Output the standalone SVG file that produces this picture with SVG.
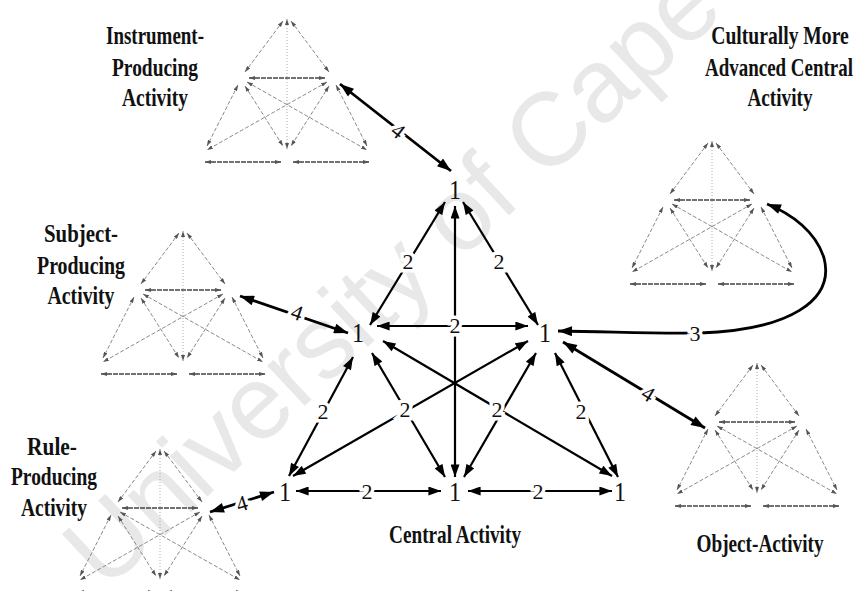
<svg xmlns="http://www.w3.org/2000/svg" xmlns:xlink="http://www.w3.org/1999/xlink" width="857" height="591" viewBox="0 0 857 591">
<style>
.title{font-family:"Liberation Serif","Times New Roman",serif;font-weight:bold;font-size:26px;fill:#111;text-anchor:middle}
.one{font-family:"Liberation Serif","Times New Roman",serif;font-size:28px;fill:#111;text-anchor:middle}
.lbl{font-family:"Liberation Serif","Times New Roman",serif;font-size:22px;fill:#111;text-anchor:middle;stroke:#fff;stroke-width:7px;paint-order:stroke}
.big{stroke:#000;stroke-width:2.2;fill:none;marker-start:url(#ah);marker-end:url(#ah)}
.outer{stroke:#000;stroke-width:2.8;fill:none;marker-start:url(#ah2);marker-end:url(#ah2)}
.m{stroke:#8a8a8a;stroke-width:1;fill:none;stroke-dasharray:4 2;marker-start:url(#sa);marker-end:url(#sa)}
.mdark{stroke:#444;stroke-width:1.3;fill:none;stroke-dasharray:5 1;marker-start:url(#sa);marker-end:url(#sa)}
.mdot{stroke:#aaa;stroke-width:1;fill:none;stroke-dasharray:1 2;marker-start:url(#sa);marker-end:url(#sa)}
.wm{font-family:"Liberation Sans",Arial,sans-serif;font-size:104px;fill:#e8e8e8}
</style>
<defs>
<marker id="ah" viewBox="0 0 14 10" refX="14" refY="5" markerWidth="14" markerHeight="9" markerUnits="userSpaceOnUse" orient="auto-start-reverse"><path d="M0,0 L14,5 L0,10 z" fill="#000"/></marker>
<marker id="ah2" viewBox="0 0 14 10" refX="14" refY="5" markerWidth="15" markerHeight="10" markerUnits="userSpaceOnUse" orient="auto-start-reverse"><path d="M0,0 L14,5 L0,10 z" fill="#000"/></marker>
<marker id="sa" viewBox="0 0 6 4" refX="6" refY="2" markerWidth="6" markerHeight="4" markerUnits="userSpaceOnUse" orient="auto-start-reverse"><path d="M0,0 L6,2 L0,4 z" fill="#555"/></marker>
<g id="mini">
<line class="m" x1="-4" y1="6" x2="-42" y2="57"/>
<line class="m" x1="4" y1="6" x2="42" y2="57"/>
<line class="mdark" x1="-38" y1="63" x2="38" y2="63"/>
<line class="mdot" x1="0" y1="4" x2="0" y2="134"/>
<line class="m" x1="-49" y1="70" x2="-80" y2="131"/>
<line class="m" x1="-42" y1="71" x2="-4" y2="131"/>
<line class="m" x1="42" y1="71" x2="4" y2="131"/>
<line class="m" x1="49" y1="70" x2="80" y2="131"/>
<line class="m" x1="-40" y1="67" x2="80" y2="135"/>
<line class="m" x1="40" y1="67" x2="-80" y2="135"/>
<line class="mdark" x1="-82" y1="147" x2="-6" y2="147"/>
<line class="mdark" x1="6" y1="147" x2="82" y2="147"/>
</g>
</defs>
<rect width="857" height="591" fill="#fff"/>
<text class="wm" transform="translate(105,592) rotate(-43)">University of Cape</text>

<g id="instrument-producing">
<use xlink:href="#mini" href="#mini" x="287" y="15"/>
<text class="title" x="155" y="44" textLength="98" lengthAdjust="spacingAndGlyphs">Instrument-</text>
<text class="title" x="155" y="76" textLength="86" lengthAdjust="spacingAndGlyphs">Producing</text>
<text class="title" x="155" y="106" textLength="66" lengthAdjust="spacingAndGlyphs">Activity</text>
</g>
<g id="culturally-advanced">
<use xlink:href="#mini" href="#mini" x="712" y="137"/>
<text class="title" transform="translate(780,44) scale(0.755,1)" x="0" y="0">Culturally More</text>
<text class="title" transform="translate(779,76) scale(0.729,1)" x="0" y="0">Advanced Central</text>
<text class="title" x="780" y="106" textLength="65" lengthAdjust="spacingAndGlyphs">Activity</text>
</g>
<g id="subject-producing">
<use xlink:href="#mini" href="#mini" x="183" y="227"/>
<text class="title" x="81" y="242" textLength="74" lengthAdjust="spacingAndGlyphs">Subject-</text>
<text class="title" x="81" y="274" textLength="88" lengthAdjust="spacingAndGlyphs">Producing</text>
<text class="title" x="81" y="304" textLength="67" lengthAdjust="spacingAndGlyphs">Activity</text>
</g>
<g id="object-activity">
<use xlink:href="#mini" href="#mini" x="757" y="359"/>
<text class="title" x="760" y="552" textLength="127" lengthAdjust="spacingAndGlyphs">Object-Activity</text>
</g>
<g id="rule-producing">
<use xlink:href="#mini" href="#mini" x="160" y="445"/>
<text class="title" x="52" y="455" textLength="50" lengthAdjust="spacingAndGlyphs">Rule-</text>
<text class="title" x="54" y="485" textLength="86" lengthAdjust="spacingAndGlyphs">Producing</text>
<text class="title" x="54" y="516" textLength="66" lengthAdjust="spacingAndGlyphs">Activity</text>
</g>

<g id="connectors">
<line class="big" x1="445" y1="202" x2="370" y2="325"/>
<line class="big" x1="463" y1="202" x2="538" y2="325"/>
<line class="big" x1="455" y1="206" x2="455" y2="477"/>
<line class="big" x1="377" y1="326" x2="528" y2="326"/>
<line class="big" x1="353" y1="357" x2="289" y2="476"/>
<line class="big" x1="372" y1="353" x2="445" y2="477"/>
<line class="big" x1="528" y1="341" x2="293" y2="476"/>
<line class="big" x1="383" y1="341" x2="612" y2="476"/>
<line class="big" x1="536" y1="353" x2="464" y2="477"/>
<line class="big" x1="555" y1="353" x2="618" y2="477"/>
<line class="big" x1="296" y1="491" x2="441" y2="491"/>
<line class="big" x1="468" y1="491" x2="612" y2="491"/>
<line class="outer" x1="340" y1="84" x2="451" y2="171"/>
<line class="outer" x1="240" y1="296" x2="348" y2="333"/>
<line class="outer" x1="210" y1="512" x2="274" y2="492"/>
<line class="outer" x1="563" y1="342" x2="705" y2="428"/>
<path class="outer" d="M558,331 C620,332 660,334 700,333 C790,330 835,300 824,258 C816,232 792,214 767,204"/>
<text class="lbl" x="408" y="269">2</text>
<text class="lbl" x="499" y="269">2</text>
<text class="lbl" x="455" y="333">2</text>
<text class="lbl" x="323" y="419">2</text>
<text class="lbl" x="405" y="417">2</text>
<text class="lbl" x="497" y="417">2</text>
<text class="lbl" x="581" y="419">2</text>
<text class="lbl" x="367" y="499">2</text>
<text class="lbl" x="538" y="499">2</text>
<text class="lbl" transform="rotate(38 398 131)" x="398" y="138">4</text>
<text class="lbl" transform="rotate(19 297 313)" x="297" y="320">4</text>
<text class="lbl" transform="rotate(-17 242 504)" x="242" y="511">4</text>
<text class="lbl" transform="rotate(31 648 394)" x="648" y="401">4</text>
<text class="lbl" x="695" y="341">3</text>
</g>

<g id="central-activity">
<text class="one" x="455" y="199" textLength="12" lengthAdjust="spacingAndGlyphs">1</text>
<text class="one" x="358" y="342" textLength="12" lengthAdjust="spacingAndGlyphs">1</text>
<text class="one" x="545" y="342" textLength="12" lengthAdjust="spacingAndGlyphs">1</text>
<text class="one" x="285" y="501" textLength="12" lengthAdjust="spacingAndGlyphs">1</text>
<text class="one" x="455" y="501" textLength="12" lengthAdjust="spacingAndGlyphs">1</text>
<text class="one" x="620" y="501" textLength="12" lengthAdjust="spacingAndGlyphs">1</text>
<text class="title" x="455" y="543" textLength="132" lengthAdjust="spacingAndGlyphs">Central Activity</text>
</g>
</svg>
